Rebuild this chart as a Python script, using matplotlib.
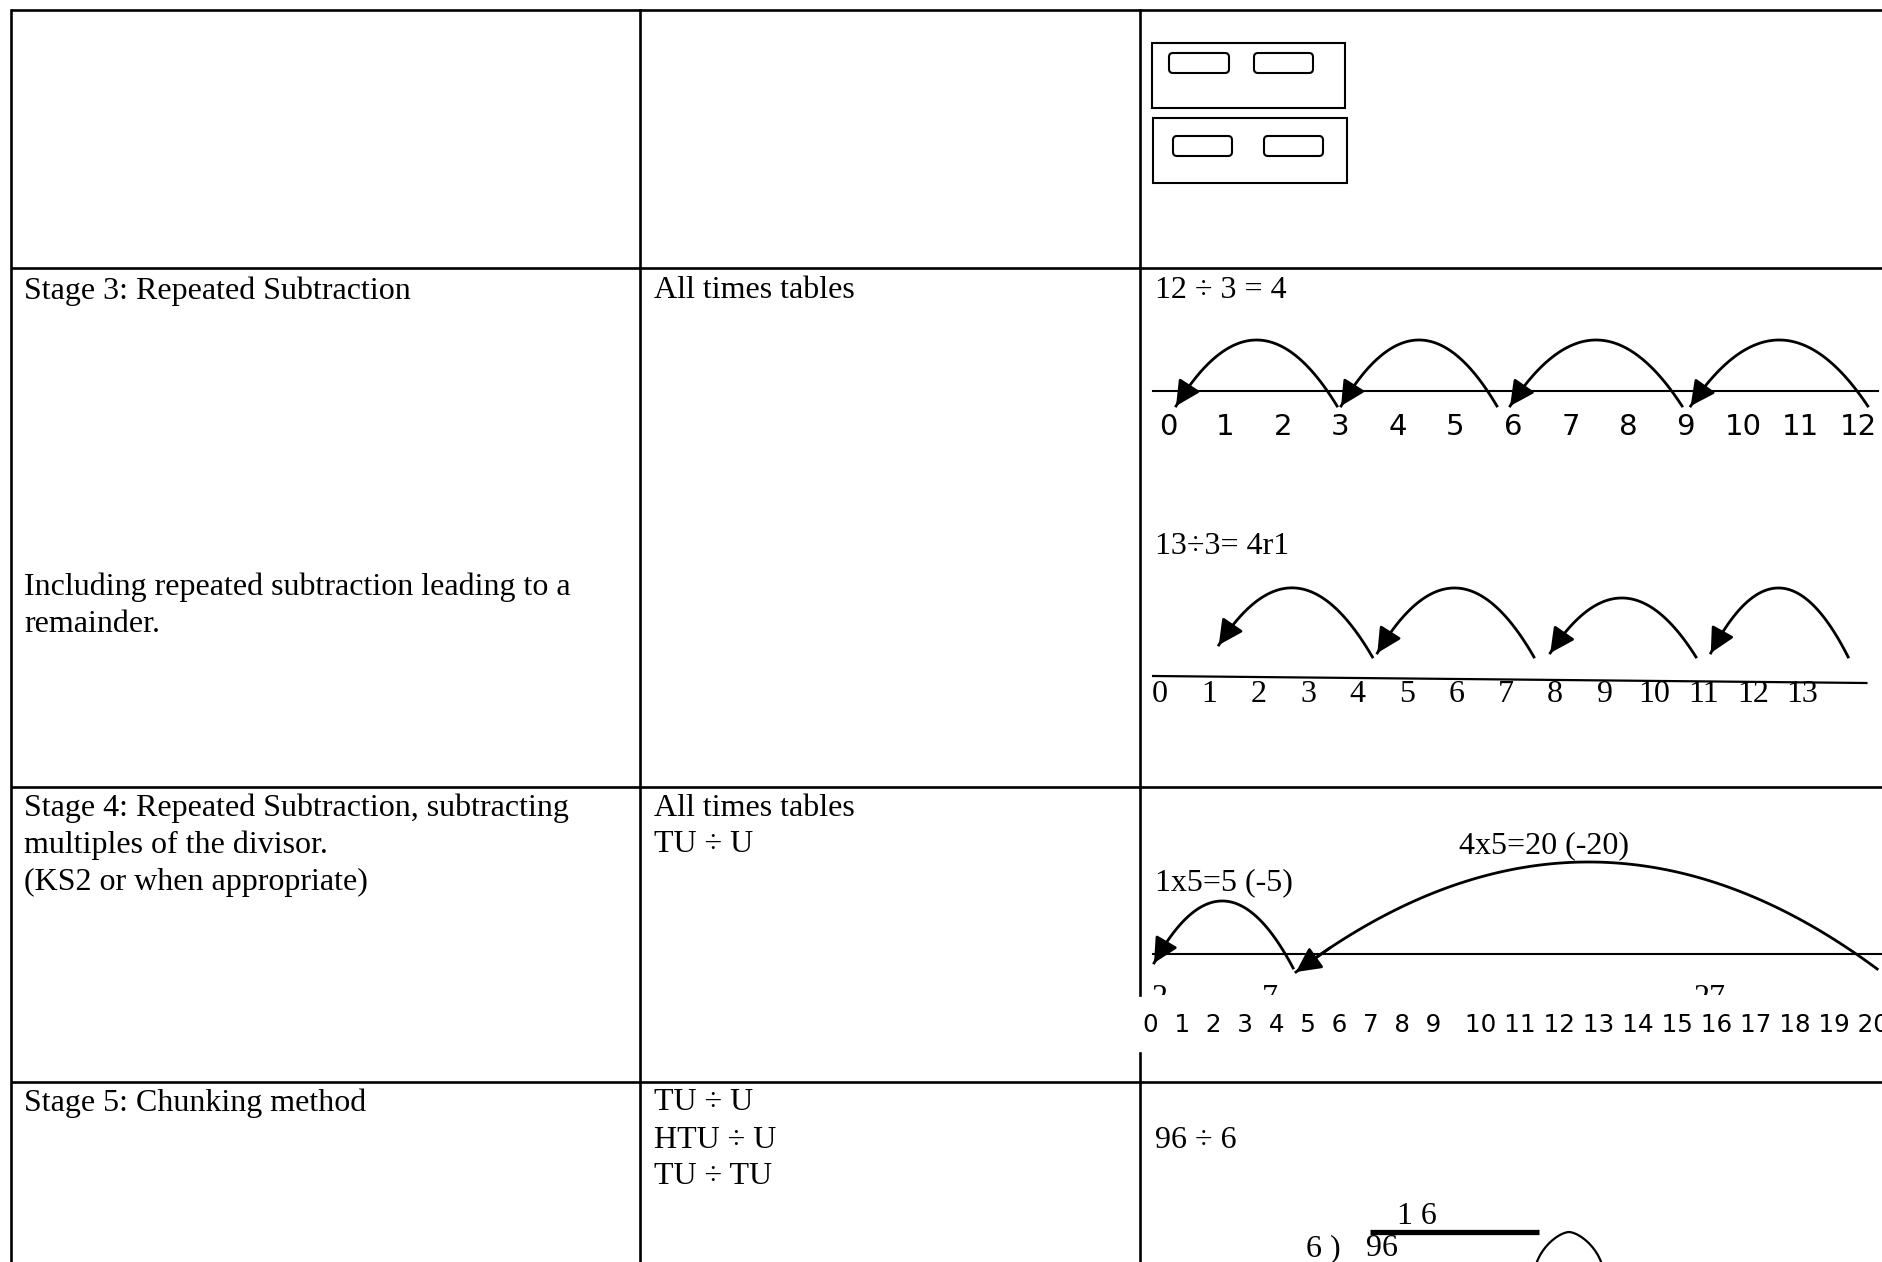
import numpy as np
import matplotlib.pyplot as plt
from matplotlib.patches import Rectangle, FancyBboxPatch

W, H = 1883, 1262
SERIF = 'Liberation Serif'
ROUND = 'DejaVu Sans'

# ---- cell text ----
stage3_desc = ["Stage 3: Repeated Subtraction"]
stage3_note = ["Including repeated subtraction leading to a", "remainder."]
stage4_desc = ["Stage 4: Repeated Subtraction, subtracting",
               "multiples of the divisor.", "(KS2 or when appropriate)"]
stage5_desc = ["Stage 5: Chunking method"]
stage3_tables = ["All times tables"]
stage4_tables = ["All times tables", "TU \u00f7 U"]
stage5_tables = ["TU \u00f7 U", "HTU \u00f7 U", "TU \u00f7 TU"]

# ---- number line 1: 12 / 3 = 4 ----
nl1_title = "12 \u00f7 3 = 4"
nl1_ticks = list(range(13))
nl1_jump_from = [12.17, 8.94, 5.72, 2.94]
nl1_jump_to = [9.09, 5.95, 3.01, 0.14]
nl1_peak = [51, 51, 51, 51]

# ---- number line 2: 13 / 3 = 4r1 ----
nl2_title = "13\u00f73= 4r1"
nl2_ticks = list(range(14))
nl2_jump_from = [13.93, 10.85, 7.57, 4.30]
nl2_jump_to = [11.15, 7.90, 4.40, 1.19]
nl2_from_h = [19, 19, 19, 19]
nl2_to_h = [23, 23, 23, 31]
nl2_peak = [88, 78, 88, 88]

# ---- number line 3: 27 - 20 - 5 ----
nl3_labels = [2, 7, 27]
nl3_jump_from = [8.05, 34.6]
nl3_jump_to = [1.73, 8.18]
nl3_from_h = [-14, -15]
nl3_to_h = [-9, -18]
nl3_peak = [53, 92]
nl3_notes = ["1x5=5 (-5)", "4x5=20 (-20)"]
nl3_row = list(range(21))

# ---- chunking ----
chunk_title = "96 \u00f7 6"
chunk_quot = "1 6"
chunk_div = "6 )"
chunk_num = "96"

fig = plt.figure(figsize=(W / 100, H / 100), dpi=100)
fig.patch.set_facecolor('white')
ax = fig.add_axes([0, 0, 1, 1])
ax.set_xlim(0, W)
ax.set_ylim(H, 0)
ax.axis('off')

# table grid
LW = 1.9
left, col1, col2 = 11, 640, 1140
rows = [10, 268, 787, 1082]
for y in rows:
    ax.plot([left, W], [y, y], color='black', lw=LW, solid_capstyle='butt')
ax.plot([left, left], [rows[0], H], color='black', lw=LW)
ax.plot([col1, col1], [rows[0], H], color='black', lw=LW)
ax.plot([col2, col2], [rows[0], 995], color='black', lw=LW)
ax.plot([col2, col2], [1053, H], color='black', lw=LW)

DY = 3  # small baseline nudge for the serif text


def cell_text(lines, x, y0, size=23, step=37):
    for i, s in enumerate(lines):
        ax.text(x, y0 + DY + i * step, s, family=SERIF, fontsize=size, va='center', ha='left')


cell_text(stage3_desc, 24, 288)
cell_text(stage3_note, 24, 584)
cell_text(stage4_desc, 24, 805)
cell_text(stage5_desc, 24, 1100)
cell_text(stage3_tables, 654, 288)
cell_text(stage4_tables, 654, 805)
cell_text(stage5_tables, 654, 1100)

# top row: place value boxes
for (x0, y0, x1, y1) in [(1152, 43, 1345, 108), (1153, 118, 1347, 183)]:
    ax.add_patch(Rectangle((x0, y0), x1 - x0, y1 - y0, fill=False, lw=1.5, ec='black'))
for (x0, y0, x1, y1) in [(1169, 53, 1229, 73), (1254, 53, 1313, 73),
                         (1173, 136, 1232, 156), (1264, 136, 1323, 156)]:
    ax.add_patch(FancyBboxPatch((x0, y0), x1 - x0, y1 - y0,
                                boxstyle='round,pad=0,rounding_size=4',
                                fill=False, lw=1.5, ec='black'))


def panel(x0_px, unit_px, line_px, l, r, t, b):
    a = fig.add_axes([l / W, 1 - b / H, (r - l) / W, (b - t) / H])
    a.set_xlim((l - x0_px) / unit_px, (r - x0_px) / unit_px)
    a.set_ylim(line_px - b, line_px - t)
    a.axis('off')
    return a


def jump(a, x_from, x_to, h_from, h_to, peak):
    t = np.linspace(0, 1, 120)
    x = x_from + (x_to - x_from) * t
    base = h_from + (h_to - h_from) * t
    y = base + 4 * (peak - (h_from + h_to) / 2) * t * (1 - t)
    a.plot(x, y, color='black', lw=2, clip_on=False)
    a.annotate('', xy=(x[-1], y[-1]), xytext=(x[-8], y[-8]),
               arrowprops=dict(arrowstyle='-|>,head_length=0.75,head_width=0.38',
                               color='black', lw=2, shrinkA=0, shrinkB=0,
                               mutation_scale=20),
               annotation_clip=False)


# number line 1
ax.text(1155, 288 + DY, nl1_title, family=SERIF, fontsize=23, va='center')
a1 = panel(1168, 57.5, 391, 1141, W, 300, 460)
a1.plot([-0.26, 12.35], [0, 0], color='black', lw=1.5)
for v in nl1_ticks:
    a1.text(v, -36, str(v), family=ROUND, fontsize=21, ha='center', va='center')
for f, t_, p in zip(nl1_jump_from, nl1_jump_to, nl1_peak):
    jump(a1, f, t_, -15, -15, p)

# number line 2
ax.text(1155, 544 + DY, nl2_title, family=SERIF, fontsize=23, va='center')
a2 = panel(1160, 49.4, 676, 1141, W, 560, 740)
a2.plot([-0.14, 14.3], [0, -7], color='black', lw=1.6)
for v in nl2_ticks:
    a2.text(v, -18, str(v), family=SERIF, fontsize=23, ha='center', va='center')
for f, t_, hf, ht, p in zip(nl2_jump_from, nl2_jump_to, nl2_from_h, nl2_to_h, nl2_peak):
    jump(a2, f, t_, hf, ht, p)

# number line 3
ax.text(1155, 880 + DY, nl3_notes[0], family=SERIF, fontsize=23, va='center')
ax.text(1459, 843 + DY, nl3_notes[1], family=SERIF, fontsize=23, va='center')
a3 = panel(1116, 22.0, 954, 1141, W, 820, 995)
a3.plot([1.68, 35.0], [0, 0], color='black', lw=1.5)
for v in nl3_labels:
    a3.text(v, -45, str(v), family=SERIF, fontsize=23, ha='center', va='center', clip_on=True)
for f, t_, hf, ht, p in zip(nl3_jump_from, nl3_jump_to, nl3_from_h, nl3_to_h, nl3_peak):
    jump(a3, f, t_, hf, ht, p)
row_str = "  ".join(str(v) for v in nl3_row if v < 10) + "   " + \
          " ".join(str(v) for v in nl3_row if v >= 10)
ax.text(1143, 1025, row_str, family=ROUND, fontsize=17.7, va='center', ha='left')

# chunking
ax.text(1155, 1138 + DY, chunk_title, family=SERIF, fontsize=23, va='center')
ax.text(1397, 1213 + DY, chunk_quot, family=SERIF, fontsize=23, va='center')
ax.plot([1370, 1539], [1232, 1232], color='black', lw=3.8, solid_capstyle='butt')
ax.text(1306, 1249, chunk_div, family=SERIF, fontsize=23, va='center')
ax.text(1366, 1249, chunk_num, family=SERIF, fontsize=23, va='center')
tt = np.linspace(0, np.pi, 80)
ax.plot(1569 - 35 * np.cos(tt), 1232 + 45 * (1 - np.sin(tt)) ** 0.8, color='black', lw=1.6)

fig.savefig('out.png', dpi=100, facecolor='white')
